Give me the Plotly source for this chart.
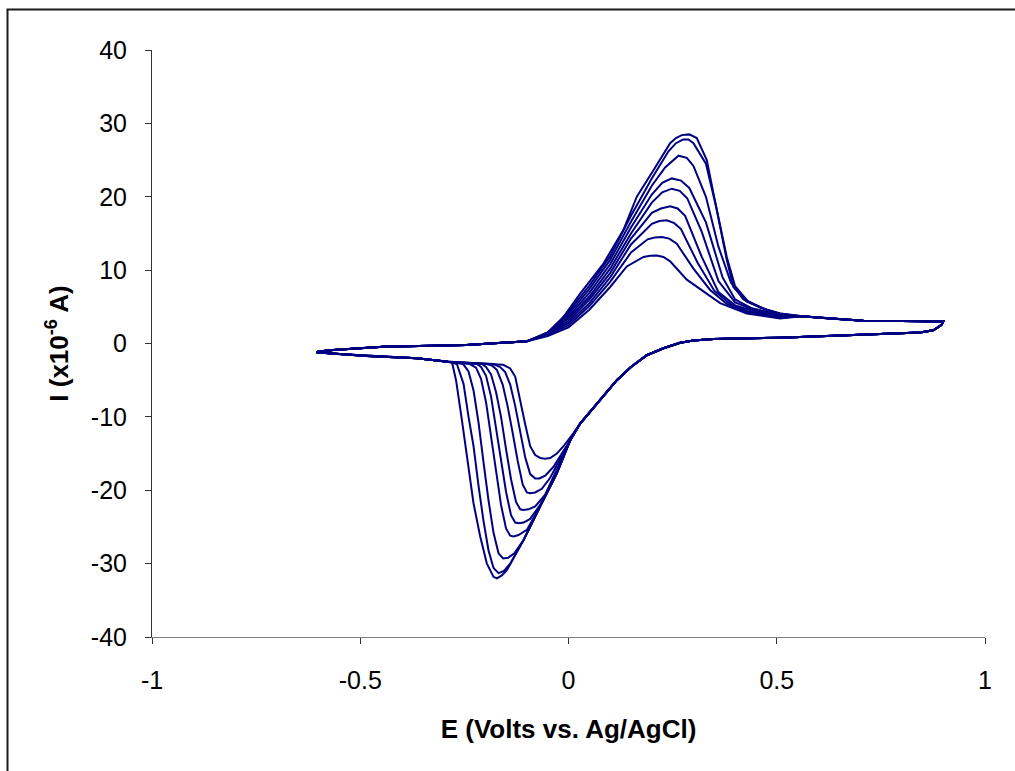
import plotly.graph_objects as go

# ---- shared portions of every cycle ----
# anodic scan baseline, from the negative switching point to the start of the wave
E_up_left = [-0.605, -0.600, -0.565, -0.445, -0.245, -0.100]
I_up_left = [-1.2, -1.1, -0.9, -0.45, -0.2, 0.3]

# tail of the anodic scan, switching at +0.9 V, and top of the cathodic scan
E_right = [0.56, 0.628, 0.708, 0.80, 0.88, 0.90, 0.895, 0.876, 0.844, 0.708, 0.508,
           0.348, 0.30, 0.268, 0.228, 0.188, 0.15, 0.116, 0.068, 0.028]
I_right = [3.7, 3.4, 3.1, 3.05, 3.0, 3.0, 2.5, 1.8, 1.5, 1.2, 0.8,
           0.6, 0.4, 0.1, -0.65, -1.6, -3.2, -5.0, -8.2, -10.9]

# cathodic baseline back to the negative switching point
E_low_left = [-0.29, -0.364, -0.485, -0.565, -0.605]
I_low_left = [-2.5, -2.0, -1.7, -1.4, -1.2]

# ---- anodic waves, one per cycle (smallest to largest) ----
E_an = [
    [-0.05, 0.0, 0.05, 0.1, 0.14, 0.18, 0.196, 0.212, 0.228, 0.244, 0.284, 0.324, 0.364, 0.428, 0.508],
    [-0.05, 0.0, 0.05, 0.1, 0.15, 0.19, 0.207, 0.224, 0.242, 0.26, 0.30, 0.34, 0.38, 0.43, 0.508],
    [-0.05, 0.0, 0.05, 0.1, 0.15, 0.20, 0.218, 0.236, 0.254, 0.27, 0.31, 0.35, 0.39, 0.43, 0.508],
    [-0.05, 0.0, 0.05, 0.1, 0.15, 0.20, 0.222, 0.244, 0.262, 0.28, 0.32, 0.36, 0.40, 0.44, 0.508],
    [-0.05, 0.0, 0.05, 0.1, 0.15, 0.20, 0.225, 0.248, 0.267, 0.285, 0.32, 0.36, 0.40, 0.44, 0.508],
    [-0.05, 0.0, 0.05, 0.1, 0.15, 0.20, 0.225, 0.248, 0.27, 0.29, 0.33, 0.37, 0.40, 0.44, 0.508],
    [-0.05, 0.0, 0.05, 0.1, 0.15, 0.20, 0.232, 0.264, 0.284, 0.30, 0.33, 0.36, 0.39, 0.42, 0.46, 0.508],
    [-0.05, 0.0, 0.05, 0.1, 0.15, 0.20, 0.24, 0.258, 0.275, 0.288, 0.30, 0.33, 0.355, 0.38, 0.40, 0.43,
     0.47, 0.508],
    [-0.05, -0.02, 0.028, 0.084, 0.132, 0.164, 0.204, 0.244, 0.258, 0.272, 0.29, 0.308, 0.332, 0.356,
     0.38, 0.396, 0.428, 0.476, 0.508],
]
I_an = [
    [1.0, 2.2, 4.6, 7.7, 10.5, 11.8, 11.95, 12.0, 11.8, 11.2, 8.7, 7.1, 5.5, 4.1, 3.4],
    [1.1, 2.5, 5.1, 8.4, 12.4, 14.2, 14.45, 14.5, 14.3, 13.6, 10.2, 7.3, 5.4, 4.3, 3.5],
    [1.2, 2.8, 5.5, 9.0, 13.5, 16.3, 16.7, 16.8, 16.4, 15.6, 11.0, 7.2, 5.3, 4.4, 3.6],
    [1.2, 3.1, 6.0, 9.6, 14.3, 17.8, 18.4, 18.7, 18.4, 17.4, 11.8, 7.0, 5.2, 4.5, 3.7],
    [1.3, 3.4, 6.4, 10.2, 15.0, 19.2, 20.6, 21.1, 20.8, 19.8, 15.2, 8.5, 5.6, 4.7, 3.8],
    [1.3, 3.7, 6.9, 10.8, 15.8, 20.3, 21.9, 22.5, 22.2, 21.2, 16.5, 9.0, 6.0, 4.8, 3.9],
    [1.4, 4.0, 7.4, 11.4, 16.6, 21.5, 24.0, 25.6, 25.3, 24.2, 20.0, 13.2, 8.3, 6.0, 4.9, 4.0],
    [1.5, 4.3, 7.9, 11.9, 17.4, 22.5, 26.2, 27.3, 27.8, 27.8, 27.3, 24.5, 18.5, 11.8, 7.8, 5.8,
     4.7, 4.1],
    [1.5, 3.0, 6.8, 10.9, 15.5, 20.0, 23.6, 27.3, 28.0, 28.4, 28.5, 28.0, 25.0, 18.2,
     11.4, 7.7, 5.7, 4.6, 4.1],
]

# ---- cathodic waves, one per cycle (smallest to largest), scanned negative ----
E_ca = [
    [0.012, -0.012, -0.028, -0.044, -0.056, -0.068, -0.08, -0.092, -0.104, -0.116, -0.128, -0.14, -0.157],
    [0.004, -0.016, -0.036, -0.056, -0.07, -0.08, -0.092, -0.104, -0.116, -0.128, -0.14, -0.152, -0.164, -0.18],
    [0.004, -0.02, -0.044, -0.064, -0.08, -0.092, -0.1, -0.11, -0.122, -0.134, -0.146, -0.158, -0.172, -0.184, -0.196],
    [0.004, -0.028, -0.056, -0.08, -0.096, -0.108, -0.116, -0.126, -0.138, -0.15, -0.162, -0.174, -0.186, -0.198, -0.208],
    [0.004, -0.028, -0.068, -0.092, -0.108, -0.12, -0.128, -0.138, -0.15, -0.162, -0.174, -0.186, -0.198, -0.21, -0.22],
    [0.004, -0.028, -0.068, -0.1, -0.12, -0.132, -0.14, -0.15, -0.162, -0.174, -0.186, -0.198, -0.21, -0.222, -0.237],
    [0.004, -0.028, -0.068, -0.108, -0.13, -0.145, -0.157, -0.168, -0.18, -0.192, -0.204, -0.216, -0.228, -0.24, -0.253],
    [0.004, -0.028, -0.068, -0.108, -0.14, -0.155, -0.168, -0.18, -0.192, -0.204, -0.216, -0.228, -0.24, -0.252, -0.268],
    [0.004, -0.028, -0.068, -0.108, -0.148, -0.16, -0.172, -0.18, -0.196, -0.212, -0.228, -0.244, -0.256, -0.27, -0.28],
]
I_ca = [
    [-12.2, -14.0, -15.0, -15.6, -15.7, -15.6, -15.2, -14.0, -11.0, -7.7, -4.5, -3.4, -2.9],
    [-13.2, -15.0, -16.8, -18.0, -18.4, -18.4, -17.8, -15.5, -12.0, -8.5, -5.6, -3.9, -3.2, -2.8],
    [-13.2, -15.8, -18.3, -19.8, -20.3, -20.4, -20.3, -19.2, -16.0, -12.2, -8.6, -5.6, -3.6, -3.0, -2.8],
    [-13.2, -17.2, -20.6, -22.2, -22.6, -22.7, -22.6, -21.6, -18.5, -14.4, -10.0, -6.6, -4.2, -3.2, -2.8],
    [-13.2, -17.5, -22.0, -23.9, -24.4, -24.5, -24.4, -23.4, -20.2, -15.8, -11.2, -7.2, -4.4, -3.2, -2.8],
    [-13.2, -17.6, -22.2, -25.4, -26.1, -26.3, -26.2, -25.2, -22.0, -17.4, -12.6, -8.0, -4.8, -3.3, -2.8],
    [-13.2, -17.7, -22.2, -26.8, -28.6, -29.2, -29.3, -28.6, -25.8, -21.4, -16.2, -10.8, -6.4, -3.8, -2.8],
    [-13.2, -17.7, -22.2, -26.8, -30.0, -31.0, -31.3, -30.6, -28.2, -24.2, -19.4, -14.0, -10.0, -5.5, -2.8],
    [-13.2, -17.7, -22.2, -26.8, -30.9, -31.6, -32.0, -31.8, -30.0, -26.3, -21.8, -15.0, -10.4, -5.0, -2.5],
]

X_TICKS = [-1, -0.5, 0, 0.5, 1]
X_TICK_TEXT = ["-1", "-0.5", "0", "0.5", "1"]
Y_TICKS = [-40, -30, -20, -10, 0, 10, 20, 30, 40]
Y_TICK_TEXT = ["-40", "-30", "-20", "-10", "0", "10", "20", "30", "40"]

FONT = "Liberation Sans, Arial, sans-serif"
NAVY = "#000080"

fig = go.Figure()
for k in range(len(E_an)):
    E = E_up_left + E_an[k] + E_right + E_ca[k] + E_low_left
    I = I_up_left + I_an[k] + I_right + I_ca[k] + I_low_left
    fig.add_trace(go.Scatter(x=E, y=I, mode="lines", showlegend=False,
                             line=dict(color=NAVY, width=2), hoverinfo="skip"))

fig.update_layout(
    width=1015, height=771, autosize=False,
    margin=dict(l=152, r=30, t=50, b=134),
    paper_bgcolor="white", plot_bgcolor="white",
    font=dict(family=FONT, size=25, color="black"),
    shapes=[dict(type="rect", xref="paper", yref="paper",
                 x0=(7.5 - 152) / 833, x1=1.2, y0=-0.5, y1=(637 - 9.5) / 587,
                 line=dict(color="#1a1a1a", width=2), fillcolor="rgba(0,0,0,0)",
                 layer="below")],
)
fig.update_xaxes(
    range=[-1, 1], tickvals=X_TICKS, ticktext=X_TICK_TEXT,
    showgrid=False, zeroline=False, showline=True, linecolor="#7f7f7f", linewidth=1,
    ticks="outside", ticklen=6, tickcolor="#333333", tickwidth=1,
    tickfont=dict(size=25, family=FONT), ticklabelstandoff=15,
    title=dict(text="<b>E (Volts vs. Ag/AgCl)</b>", font=dict(size=26, family=FONT), standoff=26),
)
fig.update_yaxes(
    range=[-40, 40], tickvals=Y_TICKS, ticktext=Y_TICK_TEXT,
    showgrid=False, zeroline=False, showline=True, linecolor="#333333", linewidth=1,
    ticks="outside", ticklen=6, tickcolor="#333333", tickwidth=1,
    tickfont=dict(size=25, family=FONT), ticklabelstandoff=13,
    title=dict(text="<b>I (x10<sup>-6</sup> A)</b>", font=dict(size=26, family=FONT), standoff=14),
)

fig.write_html("out.html")
